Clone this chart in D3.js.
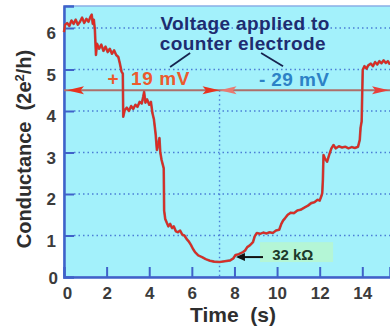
<!DOCTYPE html>
<html>
<head>
<meta charset="utf-8">
<script src="https://cdn.jsdelivr.net/npm/d3@7"></script>
<style>
  body { margin: 0; background: #fff; }
  svg { display: block; font-family: "Liberation Sans", Arial, sans-serif; }
</style>
</head>
<body>
<div id="chart"></div>
<script>
// conductance trace (time in s, G in 2e^2/h)
const time = [0.00,0.05,0.15,0.25,0.35,0.45,0.55,0.65,0.75,0.85,0.95,1.05,1.15,1.25,1.30,1.35,1.40,1.45,1.50,1.55,1.65,1.75,1.85,1.95,2.05,2.15,2.25,2.35,2.45,2.55,2.62,2.70,2.76,2.78,2.85,2.95,3.05,3.15,3.25,3.35,3.45,3.55,3.65,3.72,3.76,3.82,3.90,4.00,4.08,4.15,4.22,4.30,4.36,4.42,4.48,4.52,4.58,4.64,4.68,4.70,4.75,4.83,4.90,4.98,5.07,5.15,5.25,5.35,5.45,5.55,5.65,5.75,5.85,5.95,6.05,6.15,6.30,6.48,6.65,6.85,7.05,7.30,7.55,7.80,7.95,8.05,8.20,8.40,8.50,8.60,8.72,8.87,8.95,9.05,9.20,9.35,9.50,9.65,9.80,9.95,10.10,10.20,10.28,10.38,10.50,10.65,10.80,10.95,11.10,11.30,11.45,11.60,11.75,11.90,12.00,12.08,12.12,12.15,12.18,12.25,12.35,12.45,12.55,12.65,12.75,12.90,13.05,13.20,13.35,13.50,13.65,13.80,13.88,13.92,13.97,14.02,14.10,14.20,14.28,14.40,14.50,14.60,14.70,14.80,14.90,15.00,15.10,15.20,15.30];
const conductance = [5.90,6.08,6.12,6.05,6.18,6.10,6.20,6.08,6.15,6.25,6.12,6.22,6.15,6.28,6.32,6.10,6.20,5.95,5.35,5.62,5.50,5.60,5.45,5.55,5.42,5.50,5.38,5.46,5.35,5.30,5.15,4.95,4.90,3.86,4.02,4.08,4.00,4.12,4.05,4.15,4.10,4.22,4.18,4.35,4.46,4.20,4.28,4.15,4.22,3.95,3.80,3.45,3.06,3.20,3.35,3.00,2.82,2.70,2.62,1.60,1.40,1.30,1.22,1.28,1.18,1.22,1.10,1.08,1.12,1.02,1.00,0.92,0.86,0.78,0.68,0.60,0.52,0.48,0.43,0.39,0.37,0.36,0.38,0.40,0.45,0.53,0.55,0.60,0.64,0.72,0.76,0.84,0.98,1.06,1.04,1.07,1.05,1.08,1.06,1.12,1.14,1.28,1.36,1.42,1.50,1.55,1.54,1.60,1.62,1.68,1.72,1.78,1.80,1.86,1.84,1.95,2.02,2.35,2.94,2.85,2.78,2.95,3.10,3.18,3.10,3.15,3.12,3.14,3.10,3.13,3.11,3.14,3.30,3.60,3.75,4.99,5.08,5.02,5.10,5.14,5.08,5.18,5.12,5.20,5.15,5.22,5.16,5.20,5.12];

const xTicks = [0, 2, 4, 6, 8, 10, 12, 14];
const yTicks = [0, 1, 2, 3, 4, 5, 6];
const gridLevels = [1, 2, 3, 4, 5, 6];

// annotation values
const switchTime = 7.3;       // voltage switched here
const arrowLevel = 4.5;
const minLabel = "32 kΩ";

const W = 390, H = 329;
const svg = d3.select('#chart').append('svg')
    .attr('width', W)
    .attr('height', H);

const x = d3.scaleLinear().domain([0, 15.3]).range([64, 390]);
const y = d3.scaleLinear().domain([0, 6.53]).range([277, 6]);

// plot background + frame
svg.append('rect')
    .attr('x', x(0)).attr('y', y(6.53))
    .attr('width', x(15.3) - x(0) + 4).attr('height', y(0) - y(6.53))
    .attr('fill', '#a3f1fb')
    .attr('stroke', '#8aaee6')
    .attr('stroke-width', 1.5)
    .attr('rx', 2);

// dotted grid lines
svg.selectAll('.grid')
    .data(gridLevels)
    .enter().append('line')
    .attr('class', 'grid')
    .attr('x1', x(0) + 10).attr('x2', W)
    .attr('y1', d => y(d)).attr('y2', d => y(d))
    .attr('stroke', '#4b7fd6')
    .attr('stroke-width', 1.4)
    .attr('stroke-dasharray', '1.5,3');

svg.append('line')
    .attr('x1', x(switchTime)).attr('x2', x(switchTime))
    .attr('y1', y(arrowLevel)).attr('y2', y(0))
    .attr('stroke', '#4b7fd6')
    .attr('stroke-width', 1.4)
    .attr('stroke-dasharray', '1.5,3');

// axes
const yAxis = svg.append('g')
    .attr('transform', `translate(${x(0)},0)`)
    .call(d3.axisLeft(y).tickValues(yTicks).tickFormat(d3.format('d')).tickSize(-10).tickPadding(8));
const xAxis = svg.append('g')
    .attr('transform', `translate(0,${y(0)})`)
    .call(d3.axisBottom(x).tickValues(xTicks).tickFormat(d3.format('d')).tickSize(-10).tickPadding(10));

[xAxis, yAxis].forEach(ax => {
    ax.select('.domain').attr('stroke', '#3f62c9').attr('stroke-width', 2.5);
    ax.selectAll('.tick line').attr('stroke', '#3f62c9').attr('stroke-width', 2);
    ax.selectAll('.tick text')
        .attr('fill', '#3b3b3b')
        .attr('font-size', 17)
        .attr('font-weight', 'bold')
        .attr('font-family', '"Liberation Sans", Arial, sans-serif');
});
yAxis.selectAll('.tick text').attr('dy', '0.62em');
yAxis.selectAll('.tick').filter(d => d === 0).select('line').remove();
yAxis.selectAll('.tick').filter(d => d === 0).select('text').attr('dy', '0.4em').attr('x', -6);
xAxis.selectAll('.tick').filter(d => d === 0).select('line').remove();
xAxis.selectAll('.tick').filter(d => d === 0).select('text').attr('x', 3);

// axis titles
svg.append('text')
    .attr('x', 233).attr('y', 322)
    .attr('text-anchor', 'middle')
    .attr('font-size', 21).attr('font-weight', 'bold')
    .attr('fill', '#2e2e2e')
    .style('white-space', 'pre')
    .text('Time  (s)');

svg.append('text')
    .attr('transform', 'translate(31,149) rotate(-90)')
    .attr('text-anchor', 'middle')
    .attr('font-size', 20).attr('font-weight', 'bold')
    .attr('fill', '#2e2e2e')
    .style('white-space', 'pre')
    .html('Conductance  (2e<tspan dy="-7" font-size="13">2</tspan><tspan dy="7">/h)</tspan>');

// horizontal voltage arrow at G = 4.5
svg.append('line')
    .attr('x1', x(0)).attr('x2', W)
    .attr('y1', y(arrowLevel)).attr('y2', y(arrowLevel))
    .attr('stroke', '#ad6f6a').attr('stroke-width', 2);

function arrowHead(tipX, dir, color) {
    const yy = y(arrowLevel);
    const len = 17 * dir;
    svg.append('path')
        .attr('d', `M${tipX},${yy} L${tipX - len},${yy - 4} L${tipX - len * 0.8},${yy} L${tipX - len},${yy + 4} Z`)
        .attr('fill', color);
}
arrowHead(x(0) + 3, -1, '#e8321e');
arrowHead(x(switchTime), 1, '#e8321e');
arrowHead(x(switchTime), -1, '#e77b72');
arrowHead(W - 1, 1, '#e8403a');

// conductance trace
const line = d3.line()
    .x((d, i) => x(time[i]))
    .y(d => y(d));

svg.append('path')
    .datum(conductance)
    .attr('fill', 'none')
    .attr('stroke', '#a05a58')
    .attr('stroke-width', 2.6)
    .attr('stroke-linejoin', 'round')
    .attr('d', line);
svg.append('path')
    .datum(conductance)
    .attr('fill', 'none')
    .attr('stroke', '#e02820')
    .attr('stroke-width', 1.5)
    .attr('stroke-linejoin', 'round')
    .attr('d', line);

// labels
svg.append('text')
    .attr('x', x(3.98)).attr('y', y(4.63))
    .attr('text-anchor', 'middle')
    .attr('font-size', 19).attr('font-weight', 'bold')
    .attr('letter-spacing', 0.6)
    .attr('fill', '#ec5a2c')
    .style('white-space', 'pre')
    .text('+  19 mV');

svg.append('text')
    .attr('x', x(10.8)).attr('y', y(4.6))
    .attr('text-anchor', 'middle')
    .attr('font-size', 19).attr('font-weight', 'bold')
    .attr('letter-spacing', 0.4)
    .attr('fill', '#2c82c6')
    .style('white-space', 'pre')
    .text('- 29 mV');

const note = svg.append('text')
    .attr('text-anchor', 'middle')
    .attr('font-size', 19).attr('font-weight', 'bold')
    .attr('letter-spacing', 0.4)
    .attr('fill', '#1d2c70');
note.append('tspan').attr('x', x(8.5)).attr('y', y(5.95)).text('Voltage applied to');
note.append('tspan').attr('x', x(8.4)).attr('y', y(5.48)).text('counter electrode');

// pointer strokes from the note
[[5.92, 5.40, 4.98, 5.06], [9.25, 5.40, 10.28, 5.08]].forEach(p => {
    svg.append('line')
        .attr('x1', x(p[0])).attr('y1', y(p[1]))
        .attr('x2', x(p[2])).attr('y2', y(p[3]))
        .attr('stroke', '#16234f').attr('stroke-width', 1.8);
});

// minimum conductance tag
svg.append('rect')
    .attr('x', x(9.2)).attr('y', y(0.84))
    .attr('width', x(12.63) - x(9.2)).attr('height', y(0.36) - y(0.84))
    .attr('fill', '#b4f6d6');
svg.append('text')
    .attr('x', x(9.77)).attr('y', y(0.41))
    .attr('font-size', 15).attr('font-weight', 'bold')
    .attr('fill', '#1c3a2a')
    .text(minLabel);

const ay = y(0.48);
svg.append('line')
    .attr('x1', x(9.34)).attr('x2', x(8.07) + 7)
    .attr('y1', ay).attr('y2', ay)
    .attr('stroke', '#111').attr('stroke-width', 2);
svg.append('path')
    .attr('d', `M${x(8.07)},${ay} L${x(8.07) + 9},${ay - 4} L${x(8.07) + 9},${ay + 4} Z`)
    .attr('fill', '#111');
</script>
</body>
</html>
